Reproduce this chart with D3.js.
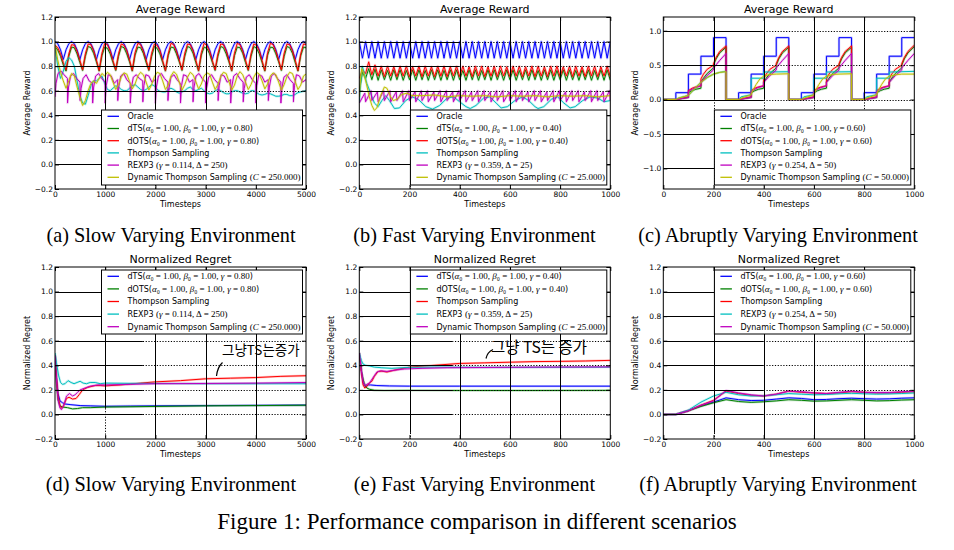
<!DOCTYPE html>
<html><head><meta charset="utf-8">
<script src="https://cdn.jsdelivr.net/npm/d3@7"></script>
<style>body{margin:0;background:#fff}svg{display:block}</style>
</head><body>
<svg id="fig" width="954" height="550"></svg>
<script>
// ================= DATA =================
const xTicksSlow = [0,1000,2000,3000,4000,5000];
const xTicksFast = [0,200,400,600,800,1000];
const yTicksMain = [-0.2,0,0.2,0.4,0.6,0.8,1.0,1.2];
const yTicksAbrupt = [-1.0,-0.5,0,0.5,1.0];
const captions = ["(a) Slow Varying Environment","(b) Fast Varying Environment","(c) Abruptly Varying Environment",
                  "(d) Slow Varying Environment","(e) Fast Varying Environment","(f) Abruptly Varying Environment"];
const figCaption = "Figure 1: Performance comparison in different scenarios";
const notes = ["그냥TS는증가","그냥 TS는 증가"];

const legA = ['Oracle','dTS(|α₀ = 1.00, β₀ = 1.00, γ = 0.80|)','dOTS(|α₀ = 1.00, β₀ = 1.00, γ = 0.80|)','Thompson Sampling','REXP3 |(γ = 0.114, Δ = 250)','Dynamic Thompson Sampling |(C = 250.000)'];
const legB = ['Oracle','dTS(|α₀ = 1.00, β₀ = 1.00, γ = 0.40|)','dOTS(|α₀ = 1.00, β₀ = 1.00, γ = 0.40|)','Thompson Sampling','REXP3 |(γ = 0.359, Δ = 25)','Dynamic Thompson Sampling |(C = 25.000)'];
const legC = ['Oracle','dTS(|α₀ = 1.00, β₀ = 1.00, γ = 0.60|)','dOTS(|α₀ = 1.00, β₀ = 1.00, γ = 0.60|)','Thompson Sampling','REXP3 |(γ = 0.254, Δ = 50)','Dynamic Thompson Sampling |(C = 50.000)'];

// ---- (a) slow varying, sampled every 55 steps ----
const aStep = 55;
const aOracle = [1,0.983,0.933,0.854,0.933,0.983, 1,0.983,0.933,0.854,0.933,0.983, 1,0.983,0.933,0.854,0.933,0.983,
 1,0.983,0.933,0.854,0.933,0.983, 1,0.983,0.933,0.854,0.933,0.983, 1,0.983,0.933,0.854,0.933,0.983,
 1,0.983,0.933,0.854,0.933,0.983, 1,0.983,0.933,0.854,0.933,0.983, 1,0.983,0.933,0.854,0.933,0.983,
 1,0.983,0.933,0.854,0.933,0.983, 1,0.983,0.933,0.854,0.933,0.983, 1,0.983,0.933,0.854,0.933,0.983,
 1,0.983,0.933,0.854,0.933,0.983, 1,0.983,0.933,0.854,0.933,0.983, 1,0.983,0.933,0.854,0.933,0.983, 1,0.985];
const aDTS = [0.96,0.93,0.88,0.81,0.76,0.88, 0.955,0.95,0.9,0.83,0.765,0.88, 0.96,0.95,0.905,0.835,0.76,0.885,
 0.955,0.945,0.9,0.83,0.765,0.88, 0.96,0.95,0.9,0.835,0.76,0.89, 0.955,0.95,0.905,0.83,0.765,0.88,
 0.96,0.945,0.9,0.83,0.76,0.885, 0.955,0.95,0.9,0.835,0.765,0.88, 0.96,0.95,0.905,0.83,0.76,0.89,
 0.955,0.945,0.9,0.83,0.765,0.88, 0.96,0.95,0.9,0.835,0.76,0.885, 0.955,0.95,0.905,0.83,0.765,0.88,
 0.96,0.945,0.9,0.83,0.76,0.89, 0.955,0.95,0.9,0.835,0.765,0.88, 0.96,0.95,0.905,0.83,0.76,0.885, 0.955,0.95];
const aDOTS = [0.97,0.95,0.9,0.83,0.77,0.9, 0.975,0.97,0.92,0.85,0.77,0.9, 0.98,0.975,0.925,0.85,0.765,0.905,
 0.985,0.975,0.92,0.845,0.77,0.9, 0.98,0.97,0.925,0.85,0.765,0.91, 0.985,0.975,0.92,0.85,0.77,0.905,
 0.98,0.97,0.925,0.845,0.765,0.9, 0.985,0.975,0.92,0.85,0.77,0.905, 0.98,0.975,0.925,0.85,0.765,0.91,
 0.985,0.97,0.92,0.845,0.77,0.9, 0.98,0.975,0.925,0.85,0.765,0.905, 0.985,0.975,0.92,0.85,0.77,0.9,
 0.98,0.97,0.925,0.845,0.765,0.91, 0.985,0.975,0.92,0.85,0.77,0.905, 0.98,0.975,0.925,0.85,0.765,0.9, 0.98,0.975];
const aTS = [0.95,0.8,0.7,0.76,0.84,0.87,0.85,0.8,0.68,0.56,0.5,0.49,0.56,0.64,0.68,0.68,0.7,0.72,
 0.66,0.61,0.6,0.62,0.64,0.63,0.61,0.6,0.6,0.62,0.64,0.65,0.63,0.61,0.6,0.61,0.63,0.65,
 0.64,0.61,0.595,0.59,0.59,0.61,0.62,0.61,0.59,0.58,0.59,0.6,0.62,0.63,0.61,0.6,0.61,0.62,
 0.6,0.58,0.575,0.58,0.6,0.61,0.6,0.585,0.575,0.575,0.59,0.6,0.6,0.59,0.58,0.575,0.58,0.6,
 0.6,0.585,0.57,0.565,0.57,0.58,0.575,0.565,0.555,0.555,0.56,0.57,0.57,0.56,0.56,0.57,0.585,0.59,0.595,0.6];
const aDynTS = [0.97,0.85,0.75,0.68,0.62,0.68, 0.74,0.72,0.63,0.55,0.48,0.52, 0.6,0.66,0.68,0.66,0.7,0.74,
 0.72,0.75,0.73,0.67,0.61,0.65, 0.71,0.745,0.735,0.675,0.615,0.655, 0.72,0.75,0.73,0.67,0.605,0.65,
 0.715,0.75,0.74,0.68,0.61,0.645, 0.72,0.755,0.735,0.67,0.605,0.65, 0.71,0.75,0.73,0.675,0.615,0.655,
 0.72,0.745,0.735,0.67,0.61,0.65, 0.715,0.75,0.74,0.675,0.605,0.645, 0.72,0.755,0.73,0.67,0.61,0.65,
 0.71,0.75,0.735,0.68,0.615,0.655, 0.72,0.745,0.73,0.67,0.605,0.65, 0.715,0.75,0.74,0.675,0.61,0.645, 0.72,0.735];
const aREXP3 = [[0,0.55],[20,0.66],[60,0.74],[120,0.76],[180,0.73],[248,0.7],
 [250,0.5],[270,0.63],[310,0.72],[370,0.74],[430,0.7],[498,0.67],
 [500,0.52],[520,0.62],[560,0.7],[620,0.73],[680,0.68],[748,0.66],
 [750,0.5],[770,0.63],[810,0.72],[870,0.74],[930,0.7],[998,0.67],
 [1000,0.5],[1020,0.64],[1060,0.73],[1120,0.72],[1180,0.66],[1248,0.69],
 [1250,0.52],[1270,0.63],[1310,0.72],[1370,0.74],[1430,0.69],[1498,0.66],
 [1500,0.5],[1520,0.62],[1560,0.71],[1620,0.73],[1680,0.7],[1748,0.68],
 [1750,0.51],[1770,0.64],[1810,0.73],[1870,0.72],[1930,0.67],[1998,0.69],
 [2000,0.5],[2020,0.63],[2060,0.72],[2120,0.74],[2180,0.7],[2248,0.67],
 [2250,0.52],[2270,0.62],[2310,0.71],[2370,0.73],[2430,0.69],[2498,0.66],
 [2500,0.5],[2520,0.64],[2560,0.73],[2620,0.72],[2680,0.67],[2748,0.69],
 [2750,0.51],[2770,0.63],[2810,0.72],[2870,0.74],[2930,0.7],[2998,0.67],
 [3000,0.5],[3020,0.62],[3060,0.71],[3120,0.73],[3180,0.69],[3248,0.66],
 [3250,0.52],[3270,0.64],[3310,0.73],[3370,0.72],[3430,0.67],[3498,0.69],
 [3500,0.5],[3520,0.63],[3560,0.72],[3620,0.74],[3680,0.7],[3748,0.67],
 [3750,0.51],[3770,0.62],[3810,0.71],[3870,0.73],[3930,0.69],[3998,0.66],
 [4000,0.5],[4020,0.64],[4060,0.73],[4120,0.72],[4180,0.67],[4248,0.69],
 [4250,0.52],[4270,0.63],[4310,0.72],[4370,0.74],[4430,0.7],[4498,0.67],
 [4500,0.5],[4520,0.62],[4560,0.71],[4620,0.73],[4680,0.69],[4748,0.66],
 [4750,0.51],[4770,0.64],[4810,0.73],[4870,0.72],[4930,0.67],[5000,0.69]];

// ---- (b) fast varying, sampled every 12.5 steps ----
const bStep = 12.5;
const bOracle = [1,0.865,1,0.865,1,0.865,1,0.865,1,0.865,1,0.865,1,0.865,1,0.865,1,0.865,1,0.865,
 1,0.865,1,0.865,1,0.865,1,0.865,1,0.865,1,0.865,1,0.865,1,0.865,1,0.865,1,0.865,
 1,0.865,1,0.865,1,0.865,1,0.865,1,0.865,1,0.865,1,0.865,1,0.865,1,0.865,1,0.865,
 1,0.865,1,0.865,1,0.865,1,0.865,1,0.865,1,0.865,1,0.865,1,0.865,1,0.865,1,0.865,1];
const bDTS = [0.60,0.75,0.70,0.78,0.69,0.775,
 0.685,0.77,0.69,0.765,0.685,0.77,0.69,0.77,0.685,0.765,
 0.69,0.77,0.685,0.77,0.69,0.765,0.685,0.77,0.69,0.77,
 0.685,0.765,0.69,0.77,0.685,0.77,0.69,0.765,0.685,0.77,
 0.69,0.77,0.685,0.765,0.69,0.77,0.685,0.77,0.69,0.765,
 0.685,0.77,0.69,0.77,0.685,0.765,0.69,0.77,0.685,0.77,
 0.69,0.765,0.685,0.77,0.69,0.77,0.685,0.765,0.69,0.77,
 0.685,0.77,0.69,0.765,0.685,0.77,0.69,0.77,0.685,0.765,
 0.69,0.77,0.685,0.77,0.685];
const bDOTS = [0.70,0.77,0.74,0.835,0.73,0.81,0.72,0.80,
 0.715,0.80,0.72,0.795,0.715,0.80,0.72,0.80,0.715,0.795,
 0.72,0.80,0.715,0.80,0.72,0.795,0.715,0.80,0.72,0.80,
 0.715,0.795,0.72,0.80,0.715,0.80,0.72,0.795,0.715,0.80,
 0.72,0.80,0.715,0.795,0.72,0.80,0.715,0.80,0.72,0.795,
 0.715,0.80,0.72,0.80,0.715,0.795,0.72,0.80,0.715,0.80,
 0.72,0.795,0.715,0.80,0.72,0.80,0.715,0.795,0.72,0.80,
 0.715,0.80,0.72,0.795,0.715,0.80,0.72,0.80,0.715,0.795,
 0.72,0.80,0.715];
const bTS = [[0,0.5],[5,0.65],[12,0.8],[20,0.74],[30,0.66],[45,0.58],[60,0.5],[75,0.47],[90,0.52],[105,0.56],
 [120,0.52],[140,0.455],[160,0.46],[185,0.52],[210,0.55],[235,0.53],[265,0.47],[292,0.45],[320,0.48],[350,0.54],
 [375,0.55],[400,0.51],[425,0.47],[442,0.455],[465,0.48],[495,0.54],[520,0.55],[545,0.5],[565,0.46],[590,0.47],
 [620,0.52],[650,0.55],[675,0.52],[700,0.47],[712,0.455],[735,0.47],[765,0.53],[790,0.55],[815,0.5],[840,0.46],
 [860,0.47],[890,0.52],[920,0.55],[950,0.54],[975,0.51],[1000,0.52]];
const bREXP3 = [[0,0.50],[22,0.58],[25,0.51],[47,0.60],[50,0.52],[72,0.59],[75,0.51],[97,0.60],[100,0.52],[122,0.60],
 [125,0.51],[147,0.59],[150,0.52],[172,0.60],[175,0.51],[197,0.60],[200,0.52],[222,0.59],[225,0.51],[247,0.60],
 [250,0.52],[272,0.60],[275,0.51],[297,0.59],[300,0.52],[322,0.60],[325,0.51],[347,0.60],[350,0.52],[372,0.59],
 [375,0.51],[397,0.60],[400,0.52],[422,0.60],[425,0.51],[447,0.59],[450,0.52],[472,0.60],[475,0.51],[497,0.60],
 [500,0.52],[522,0.59],[525,0.51],[547,0.60],[550,0.52],[572,0.60],[575,0.51],[597,0.59],[600,0.52],[622,0.60],
 [625,0.51],[647,0.60],[650,0.52],[672,0.59],[675,0.51],[697,0.60],[700,0.52],[722,0.60],[725,0.51],[747,0.59],
 [750,0.52],[772,0.60],[775,0.51],[797,0.60],[800,0.52],[822,0.59],[825,0.51],[847,0.60],[850,0.52],[872,0.60],
 [875,0.51],[897,0.59],[900,0.52],[922,0.60],[925,0.51],[947,0.60],[950,0.52],[972,0.59],[975,0.51],[997,0.60],[1000,0.52]];
const bDynTS = [[0,0.55],[5,0.7],[10,0.78],[18,0.74],[28,0.66],[40,0.55],[50,0.48],[60,0.44],[70,0.46],[85,0.56],
 [100,0.63],[110,0.62],[125,0.55],[135,0.52],[150,0.53],[170,0.57],[190,0.58],[210,0.56],[250,0.56],[300,0.565],
 [350,0.55],[400,0.56],[450,0.555],[500,0.56],[550,0.55],[600,0.56],[650,0.555],[700,0.56],[750,0.55],[800,0.56],
 [850,0.555],[900,0.56],[950,0.55],[1000,0.56]];

// ---- (c) abruptly varying ----
const cStepT = [0,50,100,150,200,250,300,350,400,450,500,550,600,650,700,750,800,850,900,950,1000];
const cOracle = [0,0.1,0.37,0.63,0.9, 0,0.1,0.37,0.63,0.9, 0,0.1,0.37,0.63,0.9, 0,0.1,0.37,0.63,0.9, 0.9];
const cDTS = [[0,0],[50,0],[75,0.015],[100,0.03],[100,0.1],[115,0.13],[130,0.15],[150,0.165],[150,0.25],[160,0.31],[175,0.38],[200,0.46],[200,0.5],[210,0.59],[225,0.68],[250,0.76],[250,0],
 [300,0],[325,0.015],[350,0.03],[350,0.1],[365,0.13],[380,0.15],[400,0.165],[400,0.25],[410,0.31],[425,0.38],[450,0.46],[450,0.5],[460,0.59],[475,0.68],[500,0.76],[500,0],
 [550,0],[575,0.015],[600,0.03],[600,0.1],[615,0.13],[630,0.15],[650,0.165],[650,0.25],[660,0.31],[675,0.38],[700,0.46],[700,0.5],[710,0.59],[725,0.68],[750,0.76],[750,0],
 [800,0],[825,0.015],[850,0.03],[850,0.1],[865,0.13],[880,0.15],[900,0.165],[900,0.25],[910,0.31],[925,0.38],[950,0.46],[950,0.5],[960,0.59],[975,0.68],[1000,0.77]];
const cDOTS = [[0,0],[50,0],[75,0.02],[100,0.04],[100,0.13],[115,0.165],[130,0.185],[150,0.2],[150,0.3],[160,0.37],[175,0.44],[200,0.5],[200,0.52],[210,0.61],[225,0.7],[250,0.78],[250,0],
 [300,0],[325,0.02],[350,0.04],[350,0.13],[365,0.165],[380,0.185],[400,0.2],[400,0.3],[410,0.37],[425,0.44],[450,0.5],[450,0.52],[460,0.61],[475,0.7],[500,0.78],[500,0],
 [550,0],[575,0.02],[600,0.04],[600,0.13],[615,0.165],[630,0.185],[650,0.2],[650,0.3],[660,0.37],[675,0.44],[700,0.5],[700,0.52],[710,0.61],[725,0.7],[750,0.78],[750,0],
 [800,0],[825,0.02],[850,0.04],[850,0.13],[865,0.165],[880,0.185],[900,0.2],[900,0.3],[910,0.37],[925,0.44],[950,0.5],[950,0.52],[960,0.61],[975,0.7],[1000,0.79]];
const cTS = [[0,0],[50,0],[60,0.02],[100,0.06],[110,0.1],[125,0.16],[150,0.25],[175,0.32],[200,0.37],[225,0.395],[250,0.41],[250,0],
 [300,0],[310,0.04],[350,0.07],[350,0.31],[400,0.31],[400,0.4],[500,0.405],[500,0],
 [550,0],[560,0.04],[600,0.07],[600,0.31],[650,0.31],[650,0.4],[750,0.405],[750,0],
 [800,0],[810,0.04],[850,0.07],[850,0.31],[900,0.31],[900,0.4],[1000,0.41]];
const cREXP3 = [[0,0],[50,0],[100,0.03],[100,0.12],[125,0.17],[150,0.2],[150,0.25],[175,0.35],[200,0.43],[200,0.46],[225,0.57],[250,0.67],[250,0],
 [300,0],[350,0.03],[350,0.12],[375,0.17],[400,0.2],[400,0.25],[425,0.35],[450,0.43],[450,0.46],[475,0.57],[500,0.67],[500,0],
 [550,0],[600,0.03],[600,0.12],[625,0.17],[650,0.2],[650,0.25],[675,0.35],[700,0.43],[700,0.46],[725,0.57],[750,0.67],[750,0],
 [800,0],[850,0.03],[850,0.12],[875,0.17],[900,0.2],[900,0.25],[925,0.35],[950,0.43],[950,0.46],[975,0.57],[1000,0.67]];
const cDynTS = [[0,0],[50,0],[60,0.02],[100,0.06],[110,0.1],[125,0.16],[150,0.25],[175,0.32],[200,0.37],[225,0.395],[250,0.405],[250,0],
 [300,0],[310,0.02],[350,0.07],[355,0.12],[370,0.22],[385,0.3],[400,0.34],[425,0.365],[450,0.37],[500,0.375],[500,0],
 [550,0],[560,0.02],[600,0.07],[605,0.12],[620,0.22],[635,0.3],[650,0.34],[675,0.365],[700,0.37],[750,0.375],[750,0],
 [800,0],[810,0.02],[850,0.07],[855,0.12],[870,0.22],[885,0.3],[900,0.34],[925,0.36],[950,0.37],[1000,0.37]];

// ---- (d) normalized regret, slow ----
const dDTS = [[0,0.48],[30,0.3],[60,0.17],[100,0.11],[150,0.095],[200,0.085],[300,0.08],[500,0.072],[700,0.07],[1000,0.066],[1500,0.068],[2000,0.07],[3000,0.072],[4000,0.074],[5000,0.076]];
const dDOTS = [[0,0.48],[30,0.25],[60,0.12],[100,0.07],[150,0.06],[250,0.055],[350,0.045],[450,0.048],[550,0.055],[700,0.055],[1000,0.06],[2000,0.065],[3000,0.07],[4000,0.072],[5000,0.075]];
const dTS = [[0,0.48],[30,0.3],[60,0.15],[100,0.07],[130,0.05],[170,0.07],[230,0.13],[280,0.14],[350,0.125],[420,0.13],[480,0.16],[550,0.2],[650,0.22],[800,0.235],[900,0.235],[1000,0.232],[1300,0.24],[1700,0.255],[2000,0.265],[2500,0.275],[3000,0.29],[3500,0.295],[4000,0.3],[4500,0.31],[5000,0.315]];
const dREXP3 = [[0,0.5],[30,0.42],[70,0.32],[110,0.26],[150,0.245],[200,0.25],[260,0.275],[320,0.26],[380,0.25],[440,0.26],[500,0.27],[560,0.255],[630,0.25],[700,0.26],[800,0.26],[900,0.25],[1000,0.255],[1500,0.253],[2000,0.252],[3000,0.25],[4000,0.25],[5000,0.25]];
const dDynTS = [[0,0.48],[30,0.28],[60,0.12],[100,0.05],[130,0.04],[170,0.07],[230,0.15],[290,0.17],[350,0.15],[400,0.16],[450,0.18],[500,0.2],[600,0.215],[700,0.23],[850,0.24],[1000,0.24],[1500,0.245],[2000,0.25],[3000,0.252],[4000,0.255],[5000,0.26]];

// ---- (e) normalized regret, fast ----
const eDTS = [[0,0.5],[8,0.36],[15,0.26],[25,0.225],[35,0.24],[45,0.24],[70,0.235],[120,0.232],[200,0.23],[400,0.23],[700,0.23],[1000,0.23]];
const eDOTS = [[0,0.5],[10,0.33],[20,0.25],[30,0.215],[40,0.205],[60,0.197],[100,0.195],[200,0.196],[400,0.195],[700,0.195],[1000,0.196]];
const eTS = [[0,0.5],[8,0.35],[15,0.24],[22,0.215],[30,0.23],[40,0.255],[50,0.27],[60,0.31],[75,0.35],[90,0.352],[110,0.345],[130,0.355],[160,0.37],[200,0.385],[260,0.395],[300,0.4],[400,0.415],[500,0.42],[600,0.425],[700,0.43],[800,0.432],[900,0.435],[1000,0.44]];
const eREXP3 = [[0,0.5],[8,0.44],[15,0.41],[25,0.4],[40,0.395],[60,0.385],[90,0.38],[130,0.375],[170,0.38],[200,0.383],[300,0.385],[500,0.383],[700,0.383],[1000,0.385]];
const eDynTS = [[0,0.5],[8,0.36],[15,0.27],[22,0.235],[30,0.245],[40,0.255],[55,0.3],[70,0.345],[85,0.355],[110,0.35],[140,0.36],[180,0.37],[250,0.375],[350,0.38],[500,0.382],[700,0.385],[1000,0.387]];

// ---- (f) normalized regret, abrupt ----
const fDTS = [[0,0],[50,0],[100,0.03],[150,0.07],[200,0.1],[250,0.135],[300,0.12],[350,0.113],[400,0.115],[450,0.125],[500,0.135],[550,0.13],[600,0.12],[650,0.122],[700,0.128],[750,0.132],[800,0.128],[850,0.125],[900,0.127],[950,0.132],[1000,0.135]];
const fDOTS = [[0,0],[50,0],[100,0.03],[150,0.065],[200,0.095],[250,0.12],[300,0.105],[350,0.098],[400,0.103],[450,0.11],[500,0.12],[550,0.115],[600,0.108],[650,0.11],[700,0.115],[750,0.12],[800,0.115],[850,0.11],[900,0.112],[950,0.117],[1000,0.12]];
const fTS = [[0,0],[50,0],[100,0.03],[150,0.075],[200,0.115],[250,0.19],[300,0.17],[350,0.155],[400,0.15],[450,0.165],[500,0.19],[550,0.18],[600,0.175],[650,0.17],[700,0.175],[750,0.185],[800,0.18],[850,0.175],[900,0.175],[950,0.18],[1000,0.185]];
const fREXP3 = [[0,0],[50,0],[100,0.035],[150,0.1],[200,0.15],[250,0.18],[300,0.16],[350,0.15],[400,0.152],[450,0.16],[500,0.17],[550,0.165],[600,0.16],[650,0.162],[700,0.168],[750,0.172],[800,0.168],[850,0.165],[900,0.167],[950,0.17],[1000,0.175]];
const fDynTS = [[0,0],[50,0],[100,0.03],[150,0.075],[200,0.11],[250,0.195],[300,0.175],[350,0.16],[400,0.15],[450,0.165],[500,0.19],[550,0.185],[600,0.175],[650,0.17],[700,0.18],[750,0.19],[800,0.18],[850,0.178],[900,0.178],[950,0.185],[1000,0.19]];

// ================= DRAWING =================
const C = {b:'#0000ff', g:'#008000', r:'#ff0000', c:'#00bfbf', m:'#bf00bf', y:'#bfbf00'};
const SANS = 'DejaVu Sans', SERIF = 'Liberation Serif';
const onGrid = (vals, step, xMax) => vals.map((v,i)=>[Math.min(i*step, xMax), v]);
const svg = d3.select('#fig');
svg.append('rect').attr('width',954).attr('height',550).attr('fill','#fff');

const colX = [[55,306],[359.3,610.3],[663.3,914.3]];
const rowY = [[17,189],[267,439]];

const panels = [
 {col:0,row:0,xMax:5000,xTicks:xTicksSlow,yDom:[-0.2,1.2],yTicks:yTicksMain,title:'Average Reward',ylab:'Average Reward',
  series:[{c:C.b,d:onGrid(aOracle,aStep,5000)},{c:C.g,d:onGrid(aDTS,aStep,5000)},{c:C.r,d:onGrid(aDOTS,aStep,5000)},
          {c:C.c,d:onGrid(aTS,aStep,5000)},{c:C.m,d:aREXP3},{c:C.y,d:onGrid(aDynTS,aStep,5000)}],
  leg:{w:201,cols:[C.b,C.g,C.r,C.c,C.m,C.y],labels:legA}, vy:[0.45,0.45,0.45,0.45], hx:[5000,5000,5000,3000,2000,2000]},
 {col:1,row:0,xMax:1000,xTicks:xTicksFast,yDom:[-0.2,1.2],yTicks:yTicksMain,title:'Average Reward',ylab:'Average Reward',
  series:[{c:C.b,d:onGrid(bOracle,bStep,1000)},{c:C.g,d:onGrid(bDTS,bStep,1000)},{c:C.r,d:onGrid(bDOTS,bStep,1000)},
          {c:C.c,d:bTS},{c:C.m,d:bREXP3},{c:C.y,d:bDynTS}],
  leg:{w:196.4,cols:[C.b,C.g,C.r,C.c,C.m,C.y],labels:legB}, vy:[-0.15,0.45,0.45,0.45], hx:[1000,1000,1000,400,400,400]},
 {col:2,row:0,xMax:1000,xTicks:xTicksFast,yDom:[-1.3,1.2],yTicks:yTicksAbrupt,title:'Average Reward',ylab:'Average Reward',
  series:[{c:C.b,d:cStepT.map((t,i)=>[t,cOracle[i]]),step:true},{c:C.g,d:cDTS},{c:C.r,d:cDOTS},
          {c:C.c,d:cTS},{c:C.m,d:cREXP3},{c:C.y,d:cDynTS}],
  leg:{w:196.4,cols:[C.b,C.g,C.r,C.c,C.m,C.y],labels:legC}, vy:[0,0,0,0], hx:[1000,1000,400,400,400]},
 {col:0,row:1,xMax:5000,xTicks:xTicksSlow,yDom:[-0.2,1.2],yTicks:yTicksMain,title:'Normalized Regret',ylab:'Normalized Regret',
  series:[{c:C.b,d:dDTS},{c:C.g,d:dDOTS},{c:C.r,d:dTS},{c:C.c,d:dREXP3},{c:C.m,d:dDynTS}],
  leg:{w:201,cols:[C.b,C.g,C.r,C.c,C.m],labels:legA.slice(1)}, vy:[0.05,-0.2,-0.2,-0.2], hx:[1750,1750,1750,1750,5000,5000]},
 {col:1,row:1,xMax:1000,xTicks:xTicksFast,yDom:[-0.2,1.2],yTicks:yTicksMain,title:'Normalized Regret',ylab:'Normalized Regret',
  series:[{c:C.b,d:eDTS},{c:C.g,d:eDOTS},{c:C.r,d:eTS},{c:C.c,d:eREXP3},{c:C.m,d:eDynTS}],
  leg:{w:196.4,cols:[C.b,C.g,C.r,C.c,C.m],labels:legB.slice(1)}, vy:[-0.15,-0.2,-0.2,-0.2], hx:[370,370,370,370,1000,1000]},
 {col:2,row:1,xMax:1000,xTicks:xTicksFast,yDom:[-0.2,1.2],yTicks:yTicksMain,title:'Normalized Regret',ylab:'Normalized Regret',
  series:[{c:C.b,d:fDTS},{c:C.g,d:fDOTS},{c:C.r,d:fTS},{c:C.c,d:fREXP3},{c:C.m,d:fDynTS}],
  leg:{w:196.4,cols:[C.b,C.g,C.r,C.c,C.m],labels:legC.slice(1)}, vy:[-0.15,-0.2,-0.2,-0.2], hx:[400,400,400,400,1000,1000]}
];

function legendText(g, label, x, y){
  const t = g.append('text').attr('x',x).attr('y',y).attr('font-size',8).attr('font-family',SANS).attr('fill','#000');
  label.split('|').forEach((seg,i)=>{
    if(i%2===0){ t.append('tspan').text(seg); }
    else {
      seg.split(/([αβγC])/).forEach(tok=>{
        if(!tok) return;
        const ts = t.append('tspan').attr('font-family',SERIF).attr('font-size',9).text(tok);
        if(/[αβγC]/.test(tok)) ts.attr('font-style','italic');
      });
    }
  });
}

panels.forEach((p,pi)=>{
  const [x0,x1] = colX[p.col], [y0,y1] = rowY[p.row];
  const x = d3.scaleLinear().domain([0,p.xMax]).range([x0,x1]);
  const y = d3.scaleLinear().domain(p.yDom).range([y1,y0]);
  const g = svg.append('g');
  const cid = 'clip'+pi;
  svg.append('clipPath').attr('id',cid).append('rect').attr('x',x0).attr('y',y0).attr('width',x1-x0).attr('height',y1-y0);
  const lg = g.append('g').attr('clip-path',`url(#${cid})`);
  p.series.forEach(s=>{
    const line = d3.line().x(d=>x(d[0])).y(d=>y(d[1])).curve(s.step?d3.curveStepAfter:d3.curveLinear);
    lg.append('path').attr('d',line(s.d)).attr('fill','none').attr('stroke',s.c).attr('stroke-width',2.4).attr('stroke-opacity',0.22).attr('stroke-linejoin','round');
    lg.append('path').attr('d',line(s.d)).attr('fill','none').attr('stroke',s.c).attr('stroke-width',1).attr('stroke-linejoin','round');
  });
  // grid (solid part then dotted part, like the scan)
  const gg = g.append('g').attr('stroke','#000').attr('stroke-width',1);
  const innerX = p.xTicks.slice(1,-1), innerY = p.yTicks.filter(v=>v>p.yDom[0]+1e-9 && v<p.yDom[1]-1e-9);
  innerX.forEach((t,i)=>{
    const xx = Math.round(x(t))+0.5, ys = y(p.vy[i] ?? p.yDom[0]);
    gg.append('line').attr('x1',xx).attr('x2',xx).attr('y1',y0).attr('y2',ys);
    gg.append('line').attr('x1',xx).attr('x2',xx).attr('y1',ys).attr('y2',y1).attr('stroke-dasharray','1.2,1.6');
  });
  innerY.forEach((v,i)=>{
    const yy = Math.round(y(v))+0.5, xs = x(p.hx[i] ?? p.xMax);
    gg.append('line').attr('x1',x0).attr('x2',xs).attr('y1',yy).attr('y2',yy);
    gg.append('line').attr('x1',xs).attr('x2',x1).attr('y1',yy).attr('y2',yy).attr('stroke-dasharray','1.2,1.6');
  });
  // axes
  const fmtY = d3.format('.1f');
  const ax = (gen, tr) => {
    const a = g.append('g').attr('transform',tr).call(gen);
    a.select('.domain').remove();
    a.attr('font-family',SANS).attr('font-size',7.5);
    a.selectAll('line').attr('stroke','#000');
    return a;
  };
  ax(d3.axisBottom(x).tickValues(p.xTicks).tickFormat(d3.format('d')).tickSize(-4).tickPadding(3),`translate(0,${y1})`);
  ax(d3.axisTop(x).tickValues(p.xTicks).tickFormat('').tickSize(-4),`translate(0,${y0})`);
  ax(d3.axisLeft(y).tickValues(p.yTicks).tickFormat(fmtY).tickSize(-4).tickPadding(2),`translate(${x0},0)`);
  ax(d3.axisRight(y).tickValues(p.yTicks).tickFormat('').tickSize(-4),`translate(${x1},0)`);
  g.append('rect').attr('x',x0).attr('y',y0).attr('width',x1-x0).attr('height',y1-y0).attr('fill','none').attr('stroke','#000').attr('stroke-width',1);
  // title & labels
  g.append('text').attr('x',(x0+x1)/2).attr('y',y0-4).attr('text-anchor','middle').attr('font-family',SANS).attr('font-size',11).text(p.title);
  g.append('text').attr('x',(x0+x1)/2).attr('y',y1+17.5).attr('text-anchor','middle').attr('font-family',SANS).attr('font-size',8).text('Timesteps');
  g.append('text').attr('transform',`translate(${x0-25},${(y0+y1)/2}) rotate(-90)`).attr('text-anchor','middle').attr('font-family',SANS).attr('font-size',8).text(p.ylab);
  // legend
  const n = p.leg.labels.length;
  const lh = n===6 ? 75 : 64, rowH = n===6 ? 12.2 : 12.6;
  const lx = x1 - 3.5 - p.leg.w, ly = p.row===0 ? 110 : y0 + 3;
  const L = g.append('g');
  L.append('rect').attr('x',lx).attr('y',ly).attr('width',p.leg.w).attr('height',lh).attr('fill','#fff').attr('stroke','#000').attr('stroke-width',1);
  p.leg.labels.forEach((lab,i)=>{
    const cy = ly + 6.3 + i*rowH;
    L.append('line').attr('x1',lx+6).attr('x2',lx+17.5).attr('y1',cy).attr('y2',cy).attr('stroke',p.leg.cols[i]).attr('stroke-width',1.3);
    legendText(L, lab, lx+26, cy+2.8);
  });
  // caption
  const capX = [171,474.5,778][p.col], capY = p.row===0 ? 242 : 491;
  svg.append('text').attr('x',capX).attr('y',capY).attr('text-anchor','middle').attr('font-family',SERIF).attr('font-size',20.3).text(captions[pi]);
});

svg.append('text').attr('x',477).attr('y',529).attr('text-anchor','middle').attr('font-family',SERIF).attr('font-size',23).text(figCaption);

// handwritten notes
svg.append('text').attr('x',222).attr('y',355).attr('font-family','Noto Sans CJK KR').attr('font-size',13.5).text(notes[0]);
svg.append('path').attr('d','M216.5,376 Q217.5,367 222.5,362.5').attr('fill','none').attr('stroke','#000').attr('stroke-width',1.2);
svg.append('text').attr('x',491).attr('y',353).attr('font-family','Noto Sans CJK KR').attr('font-size',15.5).text(notes[1]);
svg.append('path').attr('d','M486,358.5 Q487.5,352 493,349.5').attr('fill','none').attr('stroke','#000').attr('stroke-width',1.2);
</script>
</body></html>
